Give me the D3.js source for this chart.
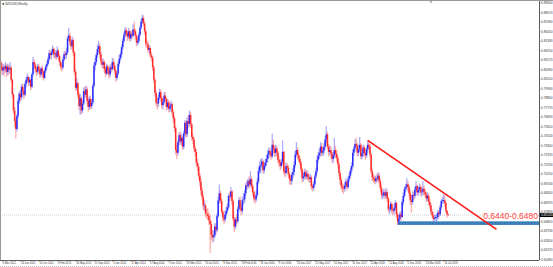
<!DOCTYPE html>
<html>
<head>
<meta charset="utf-8">
<script src="https://cdnjs.cloudflare.com/ajax/libs/d3/7.8.5/d3.min.js"></script>
<style>
  body { margin: 0; background: #fff; overflow: hidden; }
  svg { display: block; font-family: "Liberation Sans", Arial, sans-serif; }
</style>
</head>
<body>
<div id="chart"></div>
<script>
// weekly NZDUSD bars, first bar = week of 19 Feb 2012
var firstWeek = new Date(2012, 1, 19);
var firstOpen = 0.8330;

var closes = [
  0.8290,0.8240,0.8195,0.8230,0.8210,0.8245,0.8180,0.8235,0.8205,0.8225,
  0.8090,0.7920,0.7740,0.7620,0.7530,0.7680,0.7850,0.7930,0.7890,0.8010,
  0.7960,0.7920,0.8040,0.8090,0.8120,0.8060,0.8090,0.8010,0.8150,0.8290,
  0.8260,0.8210,0.8180,0.8240,0.8200,0.8150,0.8220,0.8180,0.8110,0.8190,
  0.8240,0.8270,0.8320,0.8390,0.8370,0.8400,0.8440,0.8380,0.8390,0.8350,
  0.8420,0.8360,0.8290,0.8240,0.8230,0.8320,0.8380,0.8370,0.8400,0.8560,
  0.8590,0.8520,0.8470,0.8540,0.8400,0.8180,0.8000,0.8050,0.7920,0.7790,
  0.7880,0.7740,0.7820,0.7960,0.7920,0.7980,0.7850,0.7780,0.7870,0.7790,
  0.7830,0.8020,0.8250,0.8290,0.8370,0.8440,0.8470,0.8380,0.8300,0.8260,
  0.8290,0.8210,0.8160,0.8240,0.8190,0.8150,0.8230,0.8210,0.8290,0.8250,
  0.8190,0.8110,0.8160,0.8270,0.8330,0.8380,0.8460,0.8530,0.8600,0.8650,
  0.8620,0.8580,0.8640,0.8560,0.8610,0.8590,0.8660,0.8640,0.8590,0.8510,
  0.8530,0.8600,0.8680,0.8750,0.8790,0.8730,0.8640,0.8500,0.8490,0.8430,
  0.8450,0.8370,0.8340,0.8230,0.8090,0.7940,0.7830,0.7820,0.7890,0.7950,
  0.7880,0.7800,0.7840,0.7910,0.7870,0.7780,0.7830,0.7760,0.7790,0.7810,
  0.7720,0.7650,0.7540,0.7290,0.7260,0.7380,0.7460,0.7390,0.7430,0.7330,
  0.7480,0.7600,0.7470,0.7620,0.7590,0.7690,0.7580,0.7440,0.7410,0.7310,
  0.7270,0.7150,0.7100,0.7000,0.6930,0.6830,0.6760,0.6660,0.6660,0.6570,
  0.6560,0.6540,0.6490,0.6450,0.6330,0.6300,0.6320,0.6420,0.6380,0.6540,
  0.6720,0.6800,0.6710,0.6590,0.6530,0.6500,0.6560,0.6600,0.6640,0.6770,
  0.6760,0.6820,0.6710,0.6510,0.6420,0.6500,0.6480,0.6620,0.6720,0.6640,
  0.6600,0.6720,0.6730,0.6800,0.6890,0.6880,0.6940,0.6900,0.6960,0.6880,
  0.6810,0.6740,0.6730,0.6780,0.6930,0.7050,0.7110,0.7120,0.7160,0.7060,
  0.7110,0.7150,0.7190,0.7240,0.7280,0.7260,0.7220,0.7350,0.7300,0.7260,
  0.7310,0.7260,0.7180,0.7150,0.7110,0.7150,0.7270,0.7050,0.7030,0.7110,
  0.7090,0.7020,0.6960,0.6940,0.7010,0.7040,0.7120,0.7240,0.7290,0.7230,
  0.7190,0.7150,0.7070,0.6970,0.6990,0.7040,0.6990,0.7020,0.6980,0.6960,
  0.6980,0.6880,0.6860,0.6900,0.6990,0.7050,0.7180,0.7230,0.7260,0.7330,
  0.7260,0.7280,0.7330,0.7410,0.7470,0.7330,0.7270,0.7290,0.7250,0.7190,
  0.7230,0.7290,0.7250,0.7200,0.7130,0.7030,0.6950,0.6880,0.6860,0.6850,
  0.6890,0.6930,0.6870,0.6960,0.7000,0.7060,0.7110,0.7260,0.7310,0.7360,
  0.7340,0.7260,0.7300,0.7350,0.7220,0.7250,0.7320,0.7260,0.7230,0.7300,
  0.7350,0.7330,0.7240,0.7050,0.6980,0.6960,0.6940,0.6970,0.6960,0.7000,
  0.6940,0.6860,0.6780,0.6780,0.6810,0.6770,0.6810,0.6740,0.6620,0.6620,
  0.6680,0.6610,0.6600,0.6630,0.6690,0.6560,0.6480,0.6510,0.6560,0.6530,
  0.6700,0.6770,0.6850,0.6870,0.6900,0.6870,0.6800,0.6720,0.6700,0.6780,
  0.6770,0.6840,0.6880,0.6810,0.6840,0.6870,0.6810,0.6820,0.6850,0.6810,
  0.6790,0.6740,0.6770,0.6700,0.6660,0.6590,0.6550,0.6510,0.6520,0.6530,
  0.6530,0.6580,0.6560,0.6640,0.6710,0.6720,0.6720,0.6690,0.6600,0.6560,0.6552
];

var highs = [
  .837,.832,.828,.827,.826,.829,.827,.827,.826,.829,
  .825,.810,.794,.778,.765,.770,.788,.796,.797,.804,
  .805,.799,.807,.812,.816,.814,.812,.810,.817,.835,
  .832,.828,.824,.827,.827,.822,.824,.825,.820,.822,
  .826,.830,.835,.843,.842,.843,.848,.846,.843,.841,
  .847,.844,.838,.831,.828,.835,.841,.842,.845,.859,
  .868,.862,.855,.858,.856,.842,.821,.811,.807,.795,
  .793,.790,.786,.800,.801,.802,.801,.789,.791,.790,
  .787,.805,.829,.834,.840,.849,.853,.850,.841,.833,
  .833,.831,.824,.827,.826,.822,.826,.827,.834,.833,
  .828,.821,.819,.830,.837,.841,.849,.856,.863,.869,
  .868,.865,.868,.866,.864,.865,.872,.875,.867,.861,
  .857,.863,.871,.878,.883,.882,.875,.866,.855,.852,
  .849,.847,.840,.836,.825,.811,.797,.788,.792,.799,
  .798,.790,.788,.795,.795,.789,.787,.786,.783,.785,
  .783,.775,.768,.756,.735,.741,.749,.750,.748,.746,
  .751,.763,.763,.766,.769,.774,.772,.760,.748,.744,
  .734,.730,.719,.713,.703,.697,.687,.679,.672,.669,
  .662,.663,.658,.655,.648,.638,.638,.646,.646,.657,
  .676,.690,.683,.674,.661,.656,.660,.665,.668,.680,
  .682,.687,.684,.673,.653,.653,.656,.665,.675,.676,
  .668,.676,.680,.684,.692,.695,.697,.699,.705,.699,
  .690,.683,.678,.683,.697,.709,.716,.719,.720,.718,
  .715,.719,.724,.729,.732,.732,.729,.748,.741,.734,
  .735,.734,.728,.721,.718,.719,.740,.728,.710,.715,
  .714,.712,.704,.700,.704,.709,.716,.728,.738,.732,
  .726,.722,.717,.709,.703,.708,.707,.706,.705,.701,
  .702,.700,.691,.694,.702,.709,.722,.727,.731,.738,
  .737,.732,.737,.745,.756,.750,.736,.734,.733,.727,
  .727,.743,.734,.729,.723,.716,.706,.698,.692,.690,
  .693,.697,.695,.699,.704,.709,.715,.730,.734,.741,
  .743,.737,.735,.744,.737,.730,.735,.734,.731,.733,
  .740,.740,.736,.726,.708,.702,.700,.700,.702,.704,
  .703,.697,.690,.683,.685,.684,.686,.684,.676,.666,
  .671,.669,.664,.667,.672,.670,.658,.655,.659,.660,
  .673,.681,.688,.691,.697,.694,.690,.684,.678,.682,
  .682,.687,.694,.690,.688,.691,.690,.687,.694,.689,
  .685,.682,.681,.680,.673,.669,.662,.659,.655,.656,
  .657,.661,.661,.667,.673,.676,.679,.677,.671,.661,.657
];

var lows = [
  .825,.819,.814,.815,.813,.817,.812,.814,.815,.816,
  .806,.788,.770,.755,.742,.750,.765,.781,.784,.786,
  .791,.787,.790,.800,.806,.802,.802,.797,.799,.813,
  .822,.817,.813,.815,.816,.811,.812,.814,.808,.810,
  .817,.821,.825,.830,.833,.832,.837,.834,.833,.831,
  .833,.832,.825,.820,.818,.821,.830,.832,.833,.838,
  .853,.848,.843,.844,.836,.815,.796,.797,.788,.774,
  .769,.770,.771,.780,.788,.789,.781,.773,.775,.775,
  .776,.781,.800,.820,.826,.834,.840,.834,.826,.822,
  .822,.817,.812,.814,.815,.810,.812,.817,.819,.821,
  .815,.807,.808,.814,.824,.830,.835,.843,.851,.857,
  .858,.853,.855,.852,.853,.855,.857,.860,.855,.847,
  .848,.850,.858,.866,.872,.870,.860,.846,.845,.840,
  .839,.834,.830,.819,.805,.790,.779,.775,.778,.786,
  .784,.776,.775,.781,.783,.774,.775,.772,.772,.774,
  .768,.760,.750,.724,.719,.723,.734,.735,.735,.729,
  .730,.745,.743,.744,.754,.756,.754,.740,.736,.727,
  .722,.711,.705,.696,.688,.678,.672,.661,.660,.653,
  .651,.649,.644,.612,.627,.624,.625,.629,.633,.636,
  .652,.668,.668,.656,.648,.645,.647,.652,.657,.662,
  .671,.673,.667,.648,.636,.639,.644,.646,.659,.661,
  .655,.657,.667,.669,.677,.684,.685,.686,.687,.684,
  .677,.670,.668,.670,.676,.690,.702,.703,.708,.702,
  .702,.708,.711,.715,.720,.721,.718,.720,.725,.721,
  .722,.721,.714,.710,.706,.708,.713,.701,.698,.700,
  .704,.698,.690,.689,.690,.697,.700,.709,.721,.718,
  .715,.711,.703,.692,.693,.696,.695,.696,.694,.692,
  .692,.684,.682,.683,.688,.697,.702,.715,.719,.722,
  .722,.722,.724,.730,.737,.730,.722,.723,.720,.715,
  .714,.720,.720,.716,.709,.699,.690,.684,.681,.679,
  .682,.686,.683,.685,.693,.697,.703,.709,.722,.727,
  .729,.722,.722,.727,.719,.718,.721,.722,.718,.720,
  .726,.729,.720,.702,.694,.692,.690,.691,.692,.693,
  .690,.682,.674,.673,.675,.673,.674,.670,.658,.656,
  .659,.657,.655,.656,.660,.652,.644,.645,.648,.649,
  .652,.666,.675,.681,.684,.682,.676,.667,.658,.667,
  .672,.674,.680,.677,.677,.680,.677,.676,.678,.677,
  .675,.670,.671,.666,.662,.656,.652,.648,.648,.649,
  .648,.650,.652,.654,.661,.668,.668,.665,.657,.652,.654
];

var dateLabels = ["4 Mar 2012", "24 Jun 2012", "14 Oct 2012", "3 Feb 2013", "26 May 2013",
  "15 Sep 2013", "5 Jan 2014", "27 Apr 2014", "17 Aug 2014", "7 Dec 2014", "29 Mar 2015",
  "19 Jul 2015", "8 Nov 2015", "28 Feb 2016", "19 Jun 2016", "9 Oct 2016", "29 Jan 2017",
  "21 May 2017", "10 Sep 2017", "31 Dec 2017", "22 Apr 2018", "12 Aug 2018", "2 Dec 2018",
  "24 Mar 2019", "14 Jul 2019"];

var priceTicks = [0.8965, 0.8857, 0.8749, 0.8641, 0.8533, 0.8425, 0.8317, 0.8209, 0.8101,
  0.7993, 0.7885, 0.7777, 0.7669, 0.7561, 0.7453, 0.7345, 0.7237, 0.7129, 0.7021, 0.6913,
  0.6805, 0.6697, 0.6589, 0.6481, 0.6373, 0.6265, 0.6157, 0.6049];

var zone = [0.6440, 0.6480];
var zoneStart = new Date(2018, 9, 7);
var trend = [
  { date: new Date(2018, 3, 8), price: 0.7400 },
  { date: new Date(2020, 4, 31), price: 0.6390 }
];
var lastPrice = 0.6552;
var symbol = "NZDUSD,Weekly";

var W = 553, H = 267;
var plotW = 539, plotH = 260;

var svg = d3.select("#chart").append("svg")
    .attr("width", W)
    .attr("height", H);

var parseLabel = d3.timeParse("%d %b %Y");
var tickDates = dateLabels.map(parseLabel);

var x = d3.scaleTime()
    .domain([tickDates[0], tickDates[tickDates.length - 1]])
    .range([2, 443.6]);

var y = d3.scaleLinear()
    .domain([priceTicks[priceTicks.length - 1], priceTicks[0]])
    .range([259.3, 2.7]);

var bars = closes.map(function (c, i) {
    return {
        date: d3.timeWeek.offset(firstWeek, i),
        open: i ? closes[i - 1] : firstOpen,
        high: highs[i],
        low: lows[i],
        close: c
    };
});

svg.append("clipPath").attr("id", "plot")
    .append("rect").attr("width", plotW).attr("height", plotH);

var g = svg.append("g").attr("clip-path", "url(#plot)");

// bid line
g.append("line")
    .attr("x1", 0).attr("x2", plotW)
    .attr("y1", y(lastPrice)).attr("y2", y(lastPrice))
    .attr("stroke", "#c4c4c4")
    .attr("stroke-width", 0.8)
    .attr("stroke-dasharray", "1,1");

// support zone
g.append("rect")
    .attr("x", x(zoneStart))
    .attr("y", y(zone[1]))
    .attr("width", plotW - x(zoneStart))
    .attr("height", y(zone[0]) - y(zone[1]))
    .attr("fill", "#2f78b6");

g.append("line")
    .attr("x1", x(zoneStart)).attr("x2", plotW)
    .attr("y1", y((zone[0] + zone[1]) / 2)).attr("y2", y((zone[0] + zone[1]) / 2))
    .attr("stroke", "#9cc3e4")
    .attr("stroke-width", 0.6)
    .attr("stroke-dasharray", "1,2");

function col(d) {
    return d.close >= d.open ? "#2b2bff" : "#ff2b2b";
}

// wicks
g.append("g").selectAll("line")
    .data(bars)
    .enter().append("line")
    .attr("x1", function (d) { return x(d.date); })
    .attr("x2", function (d) { return x(d.date); })
    .attr("y1", function (d) { return y(d.high); })
    .attr("y2", function (d) { return y(d.low); })
    .attr("stroke", col)
    .attr("stroke-opacity", 0.38)
    .attr("stroke-width", 1.3);

// bodies
g.append("g").selectAll("rect")
    .data(bars)
    .enter().append("rect")
    .attr("x", function (d) { return x(d.date) - 0.75; })
    .attr("width", 1.5)
    .attr("y", function (d) { return y(Math.max(d.open, d.close)); })
    .attr("height", function (d) { return Math.max(0.8, Math.abs(y(d.open) - y(d.close))); })
    .attr("fill", col);

// trend line
g.append("path")
    .datum(trend)
    .attr("fill", "none")
    .attr("stroke", "#ff1a1a")
    .attr("stroke-width", 1.6)
    .attr("d", d3.line()
        .x(function (d) { return x(d.date); })
        .y(function (d) { return y(d.price); }));

g.append("text")
    .attr("x", plotW - 1)
    .attr("y", y(zone[1]) - 2)
    .attr("text-anchor", "end")
    .attr("font-size", 8.5)
    .attr("fill", "#ff4444")
    .text(d3.format(".4f")(zone[0]) + "-" + d3.format(".4f")(zone[1]));

// axes
var xAxis = svg.append("g")
    .attr("transform", "translate(0," + plotH + ")")
    .call(d3.axisBottom(x).tickValues(tickDates).tickSize(2).tickPadding(0.4)
        .tickFormat(function (d, i) { return dateLabels[i]; }));
xAxis.select(".domain").attr("d", "M0,0.5H" + plotW).attr("stroke", "#333").attr("stroke-width", 0.8);
xAxis.selectAll(".tick line").attr("stroke", "#555").attr("stroke-width", 0.5);
xAxis.selectAll("text")
    .attr("text-anchor", "start")
    .attr("dx", "0.3")
    .attr("font-size", 2.6)
    .attr("fill", "#333");

var yAxis = svg.append("g")
    .attr("transform", "translate(" + plotW + ",0)")
    .call(d3.axisRight(y).tickValues(priceTicks).tickSize(1.5).tickPadding(0.6)
        .tickFormat(d3.format(".5f")));
yAxis.select(".domain").attr("d", "M0.5,0V" + plotH).attr("stroke", "#333").attr("stroke-width", 0.8);
yAxis.selectAll(".tick line").attr("stroke", "#555").attr("stroke-width", 0.5);
yAxis.selectAll("text").attr("font-size", 3.2).attr("fill", "#333");

// current price tag
svg.append("rect")
    .attr("x", plotW + 0.8)
    .attr("y", y(lastPrice) - 2)
    .attr("width", W - plotW)
    .attr("height", 4)
    .attr("fill", "#000");
svg.append("text")
    .attr("x", plotW + 2.2)
    .attr("y", y(lastPrice) + 1.1)
    .attr("font-size", 3.2)
    .attr("fill", "#fff")
    .text(d3.format(".5f")(lastPrice));

// frame
svg.append("line").attr("x1", 0).attr("x2", W).attr("y1", 0.5).attr("y2", 0.5)
    .attr("stroke", "#9a9a9a").attr("stroke-width", 1);
svg.append("line").attr("x1", 0.5).attr("x2", 0.5).attr("y1", 0).attr("y2", plotH)
    .attr("stroke", "#9a9a9a").attr("stroke-width", 1);
svg.append("line").attr("x1", 0).attr("x2", W).attr("y1", H - 0.5).attr("y2", H - 0.5)
    .attr("stroke", "#bbb").attr("stroke-width", 1).attr("stroke-dasharray", "1,1");

// title
svg.append("path")
    .attr("d", "M2,3.2L4.4,3.2L3.2,5.2Z")
    .attr("fill", "#333");
svg.append("text")
    .attr("x", 5.2)
    .attr("y", 5.2)
    .attr("font-size", 2.9)
    .attr("fill", "#333")
    .text(symbol);

// chart shift marker
svg.append("path")
    .attr("d", "M429.5,1L432.5,1L431,3.5Z")
    .attr("fill", "#aaa");
</script>
</body>
</html>
